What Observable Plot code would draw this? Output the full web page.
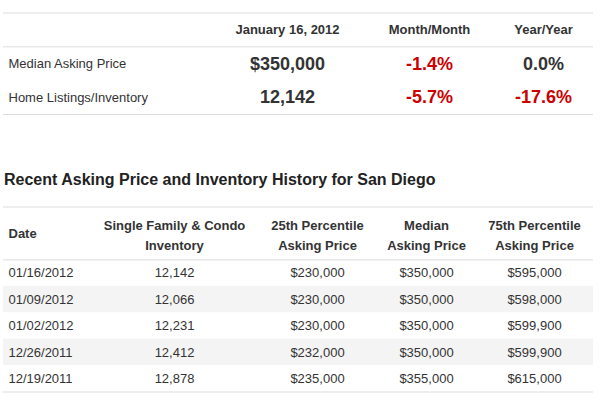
<!DOCTYPE html>
<html>
<head>
<meta charset="utf-8">
<script src="https://cdn.jsdelivr.net/npm/d3@7"></script>
<script src="https://cdn.jsdelivr.net/npm/@observablehq/plot@0.6"></script>
<style>
  html, body { margin: 0; padding: 0; background: #fff; }
  body { width: 612px; height: 408px; overflow: hidden; font-family: "Liberation Sans", Arial, Helvetica, sans-serif; color: #333; }
  svg { display: block; }
  #title { height: 76px; box-sizing: border-box; padding: 41px 0 0 4px; font-size: 16px; font-weight: bold; color: #222; white-space: nowrap; }
</style>
</head>
<body>
<div id="top"></div>
<div id="title"></div>
<div id="bottom"></div>
<script>
// ---- Summary table data ----
const summaryHeaders = ["", "January 16, 2012", "Month/Month", "Year/Year"];
const summaryLabels = ["Median Asking Price", "Home Listings/Inventory"];
const summaryCurrent = ["$350,000", "12,142"];
const summaryMonthChange = [-1.4, -5.7];
const summaryYearChange = [0.0, -17.6];

// ---- History table data ----
const historyTitle = "Recent Asking Price and Inventory History for San Diego";
const historyHeaders = ["Date", "Single Family & Condo\nInventory", "25th Percentile\nAsking Price", "Median\nAsking Price", "75th Percentile\nAsking Price"];
const historyDates = ["01/16/2012", "01/09/2012", "01/02/2012", "12/26/2011", "12/19/2011"];
const historyInventory = [12142, 12066, 12231, 12412, 12878];
const historyP25 = [230000, 230000, 230000, 232000, 235000];
const historyMedian = [350000, 350000, 350000, 350000, 355000];
const historyP75 = [595000, 598000, 599900, 599900, 615000];

// ---- Layout (column anchor positions, like table column widths) ----
const topColumnAnchor = [8, 287, 429, 543];
const bottomColumnAnchor = [8, 174, 317, 426, 534];

const textColor = "#333";
const red = "#cc0000";
const lineColor = "#dddddd";
const shade = "#f4f4f4";
const font = "Liberation Sans, Arial, Helvetica, sans-serif";
const pct = v => (v === 0 ? "0.0" : v.toFixed(1)) + "%";
const money = v => "$" + d3.format(",")(v);
const num = d3.format(",");

document.getElementById("title").textContent = historyTitle;

// ---- Build summary cells ----
const topCells = [];
summaryHeaders.forEach((h, c) => { if (h) topCells.push({col: c, row: 0, text: h, kind: "header", color: textColor}); });
summaryLabels.forEach((lab, i) => {
  const r = i + 1;
  topCells.push({col: 0, row: r, text: lab, kind: "label", color: textColor});
  topCells.push({col: 1, row: r, text: summaryCurrent[i], kind: "value", color: textColor});
  topCells.push({col: 2, row: r, text: pct(summaryMonthChange[i]), kind: "value", color: summaryMonthChange[i] < 0 ? red : textColor});
  topCells.push({col: 3, row: r, text: pct(summaryYearChange[i]), kind: "value", color: summaryYearChange[i] < 0 ? red : textColor});
});
const topRows = summaryLabels.length + 1;

const topPlot = Plot.plot({
  width: 612, height: 130,
  marginLeft: 3, marginRight: 19, marginTop: 0, marginBottom: 0,
  style: {fontFamily: font, background: "white"},
  x: {type: "linear", transform: c => topColumnAnchor[c], domain: [0, 612], range: [0, 612], axis: null},
  y: {domain: [-0.5, topRows - 0.5], range: [12.5, 114], axis: null},
  marks: [
    Plot.ruleY([-0.5, 0.5, topRows - 0.5], {stroke: lineColor, strokeWidth: 1}),
    Plot.text(topCells.filter(d => d.kind === "header"), {x: "col", y: "row", text: "text", fill: textColor, fontWeight: "bold", fontSize: 13, textAnchor: "middle"}),
    Plot.text(topCells.filter(d => d.kind === "label"), {x: "col", y: "row", text: "text", fill: textColor, fontSize: 13, textAnchor: "start"}),
    Plot.text(topCells.filter(d => d.kind === "value"), {x: "col", y: "row", text: "text", fill: "color", fontWeight: "bold", fontSize: 18, textAnchor: "middle"})
  ]
});
document.getElementById("top").appendChild(topPlot);

// ---- Build history cells ----
const histCells = [];
historyHeaders.forEach((h, c) => histCells.push({col: c, row: -1.5, text: h, kind: c === 0 ? "headerLeft" : "header"}));
historyDates.forEach((dt, i) => {
  histCells.push({col: 0, row: i, text: dt, kind: "date"});
  histCells.push({col: 1, row: i, text: num(historyInventory[i]), kind: "cell"});
  histCells.push({col: 2, row: i, text: money(historyP25[i]), kind: "cell"});
  histCells.push({col: 3, row: i, text: money(historyMedian[i]), kind: "cell"});
  histCells.push({col: 4, row: i, text: money(historyP75[i]), kind: "cell"});
});
const nRows = historyDates.length;
const shadedRows = d3.range(nRows).filter(i => i % 2 === 1);

const bottomPlot = Plot.plot({
  width: 612, height: 201,
  marginLeft: 3, marginRight: 19, marginTop: 0, marginBottom: 0,
  style: {fontFamily: font, background: "white"},
  x: {type: "linear", transform: c => bottomColumnAnchor[c], domain: [0, 612], range: [0, 612], axis: null},
  y: {domain: [-2.5, nRows - 0.5], range: [0.5, 185.5], axis: null},
  marks: [
    Plot.rect(shadedRows, {y1: d => d - 0.5, y2: d => d + 0.5, fill: shade}),
    Plot.ruleY([-2.5, -0.5, nRows - 0.5], {stroke: lineColor, strokeWidth: 1}),
    Plot.text(histCells.filter(d => d.kind === "headerLeft"), {x: "col", y: "row", text: "text", fill: textColor, fontWeight: "bold", fontSize: 13, textAnchor: "start"}),
    Plot.text(histCells.filter(d => d.kind === "header"), {x: "col", y: "row", text: "text", fill: textColor, fontWeight: "bold", fontSize: 13, lineHeight: 1.55, textAnchor: "middle"}),
    Plot.text(histCells.filter(d => d.kind === "date"), {x: "col", y: "row", text: "text", fill: textColor, fontSize: 13, textAnchor: "start"}),
    Plot.text(histCells.filter(d => d.kind === "cell"), {x: "col", y: "row", text: "text", fill: textColor, fontSize: 13, textAnchor: "middle"})
  ]
});
document.getElementById("bottom").appendChild(bottomPlot);
</script>
</body>
</html>
